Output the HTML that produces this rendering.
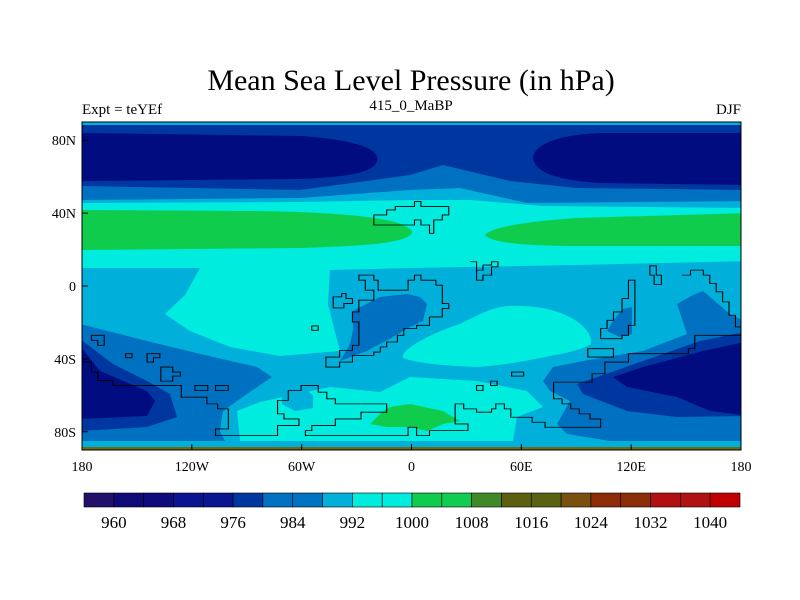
<!DOCTYPE html>
<html><head><meta charset="utf-8"><style>
body{margin:0;background:#fff;}
svg{display:block;font-family:"Liberation Serif",serif;}
</style></head><body>
<svg width="800" height="600" viewBox="0 0 800 600">
<defs><clipPath id="mapclip"><rect x="82" y="122" width="659" height="328"/></clipPath></defs>
<rect width="800" height="600" fill="#fff"/>
<text x="411" y="90" font-size="30" text-anchor="middle">Mean Sea Level Pressure (in hPa)</text>
<text x="82" y="114" font-size="15">Expt = teYEf</text>
<text x="411" y="110" font-size="15" text-anchor="middle">415_0_MaBP</text>
<text x="741" y="114" font-size="15" text-anchor="end">DJF</text>

<g clip-path="url(#mapclip)">
<rect x="80" y="120" width="670" height="335" fill="#00b0da"/>
<path d="M80 125 H750 V201 L527 203 L460 188 L410 190 L300 198 L80 200 Z" fill="#0070c0"/>
<path d="M80 125 H750 V190 L577 188 L510 181 L443 165 L410 175 L300 190 L80 186 Z" fill="#0036a0"/>
<path d="M80 133 L300 136 C360 140 380 150 377 161 C374 172 350 177 300 179 L80 181 Z" fill="#000c80"/>
<path d="M750 133 L600 133 C550 135 533 148 533 158 C535 172 555 180 600 183 L750 185 Z" fill="#000c80"/>
<path d="M80 203 L300 202 L410 200 L470 200 L543 206 L750 208 V261 L577 265 L410 268 L330 270 L200 268 L80 268 Z" fill="#00ecdf"/>
<path d="M200 268 L330 268 L328 304 L333 324 L340 351 L280 356 L230 347 L190 331 L165 314 L185 295 Z" fill="#00ecdf"/>
<path d="M80 210 L250 211 C330 212 370 216 395 222 C412 228 418 233 405 238 C390 244 360 246 300 248 L80 250 Z" fill="#10cc4c"/>
<path d="M750 213 L577 218 C520 222 490 228 485 235 C490 242 520 246 577 246 L750 246 Z" fill="#10cc4c"/>
<path d="M403 355 C408 345 440 330 460 324 C480 314 495 306 510 306 C540 305 560 311 575 320 C590 330 593 340 590 345 C575 352 560 354 540 358 C520 362 505 365 477 367 C450 366 420 364 403 358 Z" fill="#00ecdf"/>
<path d="M353 311 L380 297 L407 294 L420 297 L427 304 L423 321 L410 327 L393 337 L367 351 L340 361 L350 344 L353 330 Z" fill="#0070c0"/>
<path d="M607 331 L613 321 L623 309 L632 307 L632 334 L620 337 Z" fill="#0070c0"/>
<path d="M80 324 L147 341 L213 357 L257 367 L272 377 L247 394 L223 411 L220 431 L225 441 L80 441 Z" fill="#0070c0"/>
<path d="M750 324 L730 314 L703 291 L693 295 L677 304 L687 334 L643 351 L583 361 L553 367 L543 381 L550 391 L570 401 L557 424 L567 434 L610 441 L750 441 Z" fill="#0070c0"/>
<path d="M80 339 L113 364 L147 381 L170 394 L177 417 L147 427 L80 431 Z" fill="#0036a0"/>
<path d="M750 331 L700 341 L643 361 L577 384 L583 394 L627 411 L677 417 L750 416 Z" fill="#0036a0"/>
<path d="M80 346 L100 371 L147 391 L155 401 L147 416 L80 419 Z" fill="#000c80"/>
<path d="M750 341 L703 351 L643 367 L613 377 L627 387 L677 397 L710 411 L750 416 Z" fill="#000c80"/>
<path d="M240 441 L237 411 L260 402 L297 394 L330 387 L380 392 L410 377 L477 381 L527 391 L543 407 L517 417 L513 441 Z" fill="#00ecdf"/>
<path d="M282 388 L300 386 L313 395 L313 408 L295 411 L282 404 Z" fill="#00b0da"/>
<path d="M370 424 L380 414 L390 407 L410 404 L443 411 L460 421 L443 424 L427 431 L410 427 L387 427 Z" fill="#10cc4c"/>
<rect x="80" y="447" width="670" height="5" fill="#6a6a18"/>
</g>

<svg x="82" y="122" width="659" height="328" viewBox="8 22 1540 981" preserveAspectRatio="none">
<g fill="none" stroke="#000" stroke-width="2.5">
<path d="M690 330 V300 H720 V285 H740 V275 H785 V260 H800 V275 H865 V300 H850 V315 H830 V355 H820 V330 H800 V315 H785 V330 Z"/>
<path d="M915 440 H930 V465 H945 V450 H965 V440 H980 V455 H965 V480 H945 V495 H930 V465"/>
<path d="M655 480 H690 V495 H700 V525 H770 V495 H785 V480 H800 V495 H835 V510 H850 V565 H865 V580 H850 V605 H820 V630 H790 V640 H760 V660 H745 V680 H720 V695 H705 V710 H690 V720 H640 V740 H610 V755 H578 V725 H610 V705 H640 V690 H655 V620 H640 V590 H655 V555 H690 V525 H670 V495 H655 Z"/>
<path d="M595 545 H615 V535 H625 V550 H640 V565 H620 V578 H595 Z"/>
<path d="M1335 452 H1350 V480 H1362 V508 H1345 V480 H1335 Z"/>
<path d="M1285 495 H1300 V630 H1285 V660 H1270 V670 H1220 V640 H1235 V615 H1250 V590 H1270 V550 H1285 Z"/>
<path d="M1410 480 H1430 V465 H1460 V480 H1475 V505 H1490 V530 H1505 V560 H1520 V600 H1535 V635 H1548 V660 H1440 V700 H1425 V715 H1285 V740 H1230 V775 H1200 V800 H1110 V850 H1130 V865 H1150 V880 H1170 V895 H1195 V910 H1220 V935 H1090 V920 H1060 V905 H1010 V880 H995 V865 H975 V880 H965 V890 H930 V880 H900 V865 H880 V925 H910 V945 H820 V960 H790 V935 H770 V960 H530 V945 H545 V930 H600 V910 H660 V890 H720 V865 H600 V850 H580 V830 H560 V810 H520 V825 H490 V855 H465 V895 H480 V910 H515 V930 H465 V960 H320 V940 H350 V880 H325 V865 H300 V845 H240 V810 H80 V795 H45 V770 H30 V740 H8"/>
<path d="M1190 700 H1250 V725 H1190 Z"/>
<path d="M30 660 H60 V690 H45 V675 H30 Z"/>
<path d="M110 715 H125 V727 H110 Z M160 715 H190 V727 H175 V740 H160 Z"/>
<path d="M192 755 H220 V770 H238 V782 H220 V797 H192 Z"/>
<path d="M272 810 H302 V825 H272 Z M320 810 H350 V825 H320 Z"/>
<path d="M545 632 H560 V645 H545 Z M1012 770 H1040 V782 H1012 Z M930 810 H945 V825 H930 Z M963 797 H978 V810 H963 Z"/>
</g>
</svg>
<rect x="82" y="122" width="659" height="328" fill="none" stroke="#000" stroke-width="1"/>
<g id="axes"></g>
<g id="cbar"></g>
</svg>
<script>
const levels = [960,964,968,972,976,980,984,988,992,996,1000,1004,1008,1012,1016,1020,1024,1028,1032,1036,1040];
const boxColors = ["#22106a","#100a78","#0e0c7c","#0a1490","#0a1690","#0036a0","#0070c0","#0072c2","#00b0da","#00ecdf","#00ecdf","#10cc4c","#10cc50","#408828","#5a6010","#5a6212","#7a5010","#8c2c08","#8c2e0a","#b01010","#b01212","#c00000"];
const labelEvery = 2;
const lonTicks = [-180,-120,-60,0,60,120,180];
const lonLabels = ["180","120W","60W","0","60E","120E","180"];
const latTicks = [80,40,0,-40,-80];
const latLabels = ["80N","40N","0","40S","80S"];
const NS="http://www.w3.org/2000/svg";
const mx0=82,mx1=741,my0=122,my1=450;
const xLon=l=>mx0+(l+180)/360*(mx1-mx0);
const yLat=l=>my0+(90-l)/180*(my1-my0);
const ax=document.getElementById('axes');
function mk(tag,attrs,parent){const e=document.createElementNS(NS,tag);for(const k in attrs)e.setAttribute(k,attrs[k]);parent.appendChild(e);return e;}
lonTicks.forEach((l,i)=>{
  const x=xLon(l);
  const t=mk('text',{x:x,y:471,'font-size':14,'text-anchor':'middle'},ax);
  t.textContent=lonLabels[i];
  
  
  const tk=mk('line',{x1:x,x2:x,y1:my1,y2:my1-6,stroke:'#000'},ax);
  
  
});
latTicks.forEach((l,i)=>{
  const y=yLat(l);
  const t=mk('text',{x:76,y:y+5,'font-size':14,'text-anchor':'end'},ax);
  t.textContent=latLabels[i];
  
  
  const tk=mk('line',{x1:mx0,x2:mx0+6,y1:y,y2:y,stroke:'#000'},ax);
  
  
});
const cb=document.getElementById('cbar');
const cx0=84,cx1=740,cy=493,ch=14;
const bw=(cx1-cx0)/boxColors.length;
boxColors.forEach((c,i)=>{
  const r=mk('rect',{x:cx0+i*bw,y:cy,width:bw,height:ch,fill:c,stroke:'#000','stroke-width':0.6},cb);
  
  
});
levels.forEach((v,i)=>{
  if(i%labelEvery!==0)return;
  const t=mk('text',{x:cx0+(i+1)*bw,y:528,'font-size':17,'text-anchor':'middle'},cb);
  t.textContent=v;
  
  
});
</script>
</body></html>
